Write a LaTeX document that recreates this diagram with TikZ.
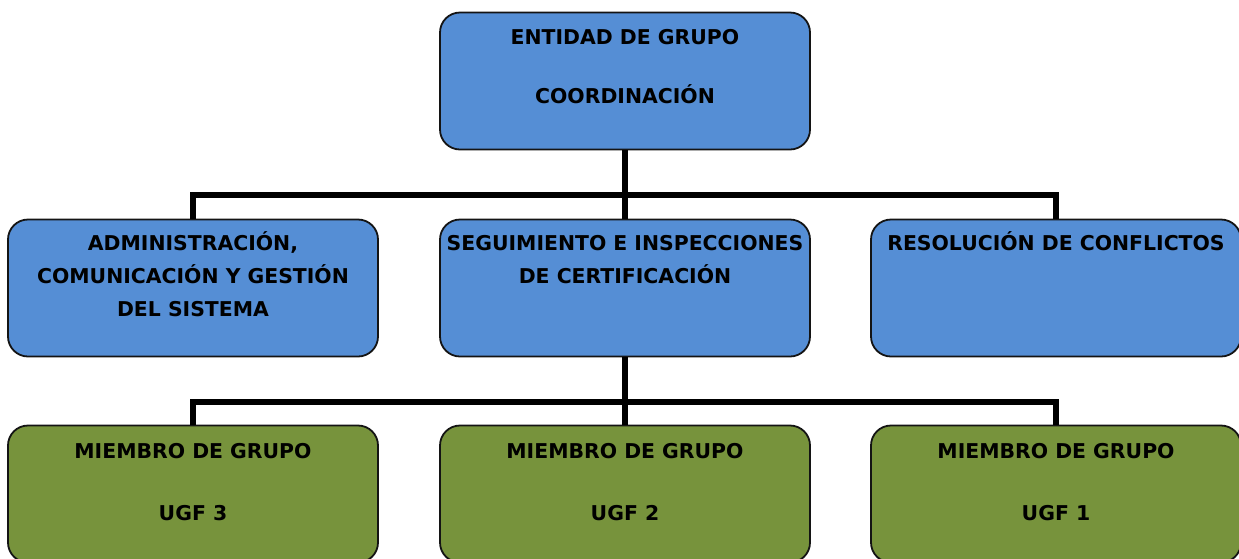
\documentclass[tikz,border=0pt]{standalone}
\usepackage{fontspec}
\setmainfont{DejaVu Sans}
\definecolor{boxblue}{RGB}{85,142,213}
\definecolor{boxgreen}{RGB}{119,147,60}
\definecolor{edge}{RGB}{20,20,20}
\tikzset{
  orgbox/.style={draw=edge, line width=1.8pt, rounded corners=20pt, minimum width=370pt, minimum height=137pt, inner sep=0pt},
  bluebox/.style={orgbox, fill=boxblue},
  greenbox/.style={orgbox, fill=boxgreen},
  label/.style={font=\fontsize{20.4}{33}\selectfont\bfseries, align=center, inner sep=0pt, anchor=north, text=black},
  conn/.style={line width=6.5pt, black, line join=miter}
}
\begin{document}
\begin{tikzpicture}[x=1pt, y=-1pt]
\useasboundingbox (0,0) rectangle (1239,558);
\clip (0,0) rectangle (1239,558);
% connectors
\coordinate (bus1) at (625,195);
\coordinate (bus2) at (625,402);
% boxes
\node[bluebox] (top) at (625,81) {};
\node[bluebox] (adm) at (193,288) {};
\node[bluebox] (seg) at (625,288) {};
\node[bluebox] (res) at (1056,288) {};
\node[greenbox] (m3) at (193,494) {};
\node[greenbox] (m2) at (625,494) {};
\node[greenbox] (m1) at (1056,494) {};
\draw[conn] (top.south) -- (bus1);
\draw[conn] (adm.north) |- (bus1) -| (res.north);
\draw[conn] (bus1) -- (seg.north);
\draw[conn] (seg.south) -- (bus2);
\draw[conn] (m3.north) |- (bus2) -| (m1.north);
\draw[conn] (bus2) -- (m2.north);
% texts
\node[label] (ttop) at ([yshift=-10pt]top.north) {\strut ENTIDAD DE GRUPO\\[26pt]COORDINACIÓN};
\node[label] (tadm) at ([yshift=-9pt]adm.north) {\strut ADMINISTRACIÓN,\\COMUNICACIÓN Y GESTIÓN\\DEL SISTEMA};
\node[label] (tseg) at ([yshift=-9pt]seg.north) {\strut SEGUIMIENTO E INSPECCIONES\\DE CERTIFICACIÓN};
\node[label] (tres) at ([yshift=-9pt]res.north) {\strut RESOLUCIÓN DE CONFLICTOS};
\node[label] (tm3) at ([yshift=-11pt]m3.north) {\strut MIEMBRO DE GRUPO\\[29pt]UGF 3};
\node[label] (tm2) at ([yshift=-11pt]m2.north) {\strut MIEMBRO DE GRUPO\\[29pt]UGF 2};
\node[label] (tm1) at ([yshift=-11pt]m1.north) {\strut MIEMBRO DE GRUPO\\[29pt]UGF 1};
\end{tikzpicture}
\end{document}
